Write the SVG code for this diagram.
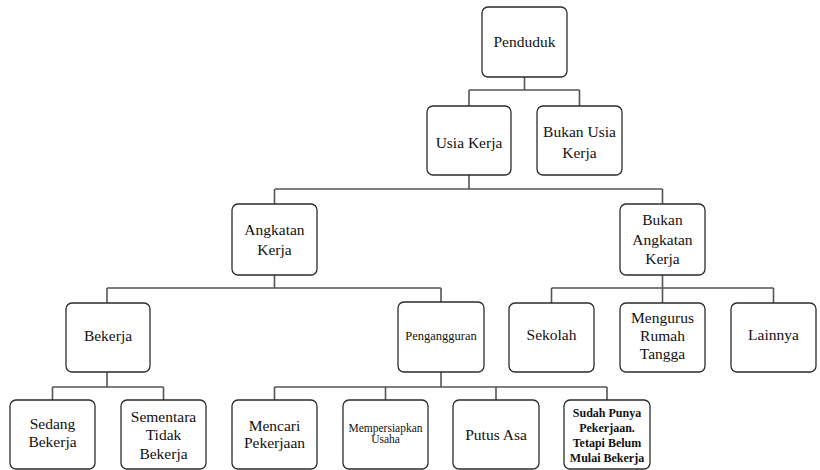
<svg xmlns="http://www.w3.org/2000/svg" width="820" height="470" viewBox="0 0 820 470">
<style>
  .box { fill: #ffffff; stroke: #2b2b2b; stroke-width: 1.3; }
  .conn { fill: none; stroke: #555555; stroke-width: 1.6; }
  text { font-family: 'Liberation Serif', 'Times New Roman', Times, 'DejaVu Serif', serif; font-size: 15.5px; fill: #111111; text-anchor: middle; }
  .sm { font-size: 11.5px; }
  .md { font-size: 12.5px; }
  .bd { font-size: 12px; font-weight: bold; }
</style>
<rect width="820" height="470" fill="#ffffff"/>
<g id="connectors">
  <path class="conn" d="M524.5 77 V90 M469 90 H579.5 M469 90 V106 M579.5 90 V106"/>
  <path class="conn" d="M469 175 V189 M275 189 H662.5 M274.5 189 V204 M662.5 189 V204"/>
  <path class="conn" d="M274.5 275 V288 M107 288 H441 M107 288 V303 M441 288 V302"/>
  <path class="conn" d="M662.5 275 V288 M551.5 288 H773.5 M551.5 288 V303 M662.5 288 V303 M773.5 288 V303"/>
  <path class="conn" d="M107 372 V387 M52.5 387 H163.5 M52.5 387 V400 M163.5 387 V400"/>
  <path class="conn" d="M441 372 V387 M274.5 387 H607 M274.5 387 V400 M385.5 387 V400 M496 387 V400 M607 387 V400"/>
</g>
<g id="penduduk"><rect class="box" x="482" y="7" width="85" height="70" rx="6"/><text x="524.5" y="47">Penduduk</text></g>
<g id="usia-kerja"><rect class="box" x="427" y="106" width="84" height="69" rx="6"/><text x="469" y="148">Usia Kerja</text></g>
<g id="bukan-usia-kerja"><rect class="box" x="537" y="106" width="85" height="69" rx="6"/><text x="579.5" y="136.5">Bukan Usia</text><text x="579.5" y="158">Kerja</text></g>
<g id="angkatan-kerja"><rect class="box" x="232" y="204" width="85" height="71" rx="6"/><text x="274.5" y="235">Angkatan</text><text x="274.5" y="255">Kerja</text></g>
<g id="bukan-angkatan-kerja"><rect class="box" x="620" y="204" width="85" height="71" rx="6"/><text x="662.5" y="225">Bukan</text><text x="662.5" y="245">Angkatan</text><text x="662.5" y="264">Kerja</text></g>
<g id="bekerja"><rect class="box" x="66" y="303" width="84" height="69" rx="6"/><text x="108" y="341">Bekerja</text></g>
<g id="pengangguran"><rect class="box" x="398" y="302" width="86" height="70" rx="6"/><text class="md" x="441" y="339.5">Pengangguran</text></g>
<g id="sekolah"><rect class="box" x="509" y="303" width="85" height="69" rx="6"/><text x="551.5" y="340">Sekolah</text></g>
<g id="mengurus-rumah-tangga"><rect class="box" x="620" y="303" width="85" height="69" rx="6"/><text x="662.5" y="323">Mengurus</text><text x="662.5" y="341">Rumah</text><text x="662.5" y="359">Tangga</text></g>
<g id="lainnya"><rect class="box" x="731" y="303" width="85" height="69" rx="6"/><text x="773.5" y="340">Lainnya</text></g>
<g id="sedang-bekerja"><rect class="box" x="10" y="400" width="85" height="69" rx="6"/><text x="52.5" y="429">Sedang</text><text x="52.5" y="447">Bekerja</text></g>
<g id="sementara-tidak-bekerja"><rect class="box" x="121" y="400" width="85" height="69" rx="6"/><text x="163.5" y="422">Sementara</text><text x="163.5" y="440">Tidak</text><text x="163.5" y="459">Bekerja</text></g>
<g id="mencari-pekerjaan"><rect class="box" x="232" y="400" width="85" height="69" rx="6"/><text x="274.5" y="431">Mencari</text><text x="274.5" y="448">Pekerjaan</text></g>
<g id="mempersiapkan-usaha"><rect class="box" x="343" y="400" width="85" height="69" rx="6"/><text class="sm" x="385.5" y="432">Mempersiapkan</text><text class="sm" x="385.5" y="443">Usaha</text></g>
<g id="putus-asa"><rect class="box" x="453" y="400" width="86" height="69" rx="6"/><text x="496" y="440">Putus Asa</text></g>
<g id="sudah-punya-pekerjaan"><rect class="box" x="564" y="400" width="86" height="69" rx="6"/><text class="bd" x="607" y="417">Sudah Punya</text><text class="bd" x="607" y="432">Pekerjaan.</text><text class="bd" x="607" y="447">Tetapi Belum</text><text class="bd" x="607" y="462">Mulai Bekerja</text></g>
</svg>
